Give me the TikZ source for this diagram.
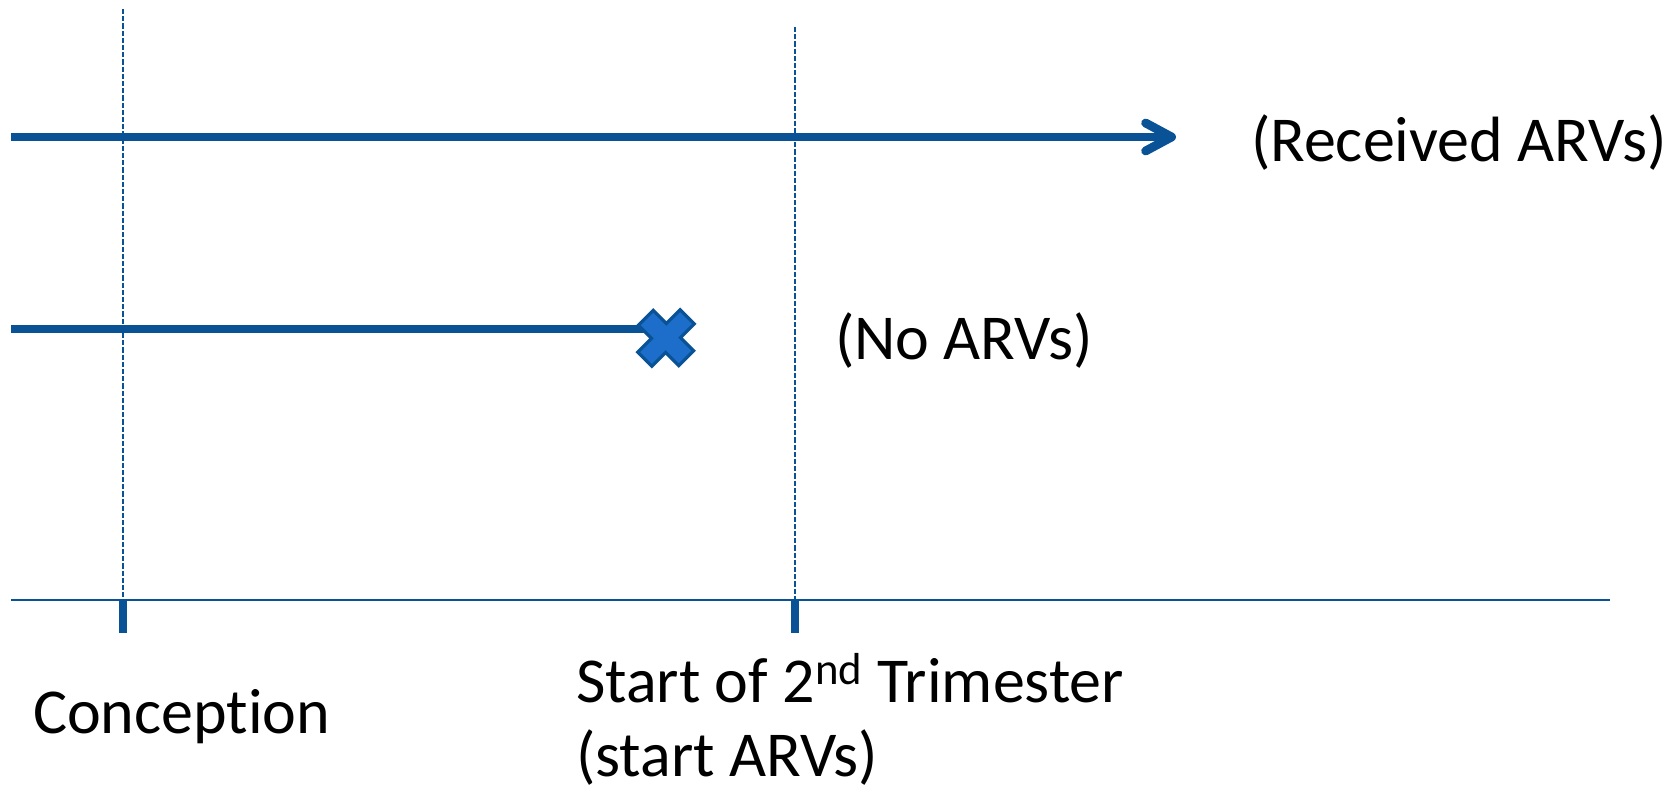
\documentclass[tikz,border=0pt]{standalone}
\usepackage{fontspec}
\setmainfont{Carlito}[Ligatures=NoCommon]
\usetikzlibrary{arrows.meta}
\definecolor{lineblue}{RGB}{10,82,150}
\definecolor{crossfill}{RGB}{28,110,202}
\tikzset{
  timeline/.style={draw=lineblue, line width=4.4pt},
  guide/.style={draw=lineblue, line width=0.7pt, dash pattern=on 2.6pt off 1pt},
  axisline/.style={draw=lineblue, line width=1pt},
  tickmark/.style={draw=lineblue, line width=4pt},
  label/.style={inner sep=0pt, outer sep=0pt, anchor=base west,
    font=\fontsize{32}{38}\selectfont},
}
\begin{document}
\begin{tikzpicture}[x=0.5pt, y=-0.5pt]
  \useasboundingbox[fill=white] (0,0) rectangle (1672,790);

  % reference points on the time axis
  \coordinate (axL) at (11,600);
  \coordinate (axR) at (1610,600);
  \coordinate (conc) at (123,600);
  \coordinate (concTop) at (123,9);
  \coordinate (concTick) at (123,633);
  \coordinate (tri) at (795,600);
  \coordinate (triTop) at (795,27);
  \coordinate (triTick) at (795,633);

  % vertical dashed guides
  \draw[guide] (concTop) -- (conc);
  \draw[guide] (triTop) -- (tri);

  % time axis and its ticks
  \draw[axisline] (axL) -- (axR);
  \draw[tickmark] (conc) -- (concTick);
  \draw[tickmark] (tri) -- (triTick);

  % treated group: continuing arrow
  \coordinate (aStart) at (11,137);
  \coordinate (aEnd) at (1176,137);
  \draw[timeline, -{Straight Barb[length=13pt, width=14pt, round]}] (aStart) -- (aEnd);

  % untreated group: line ending in a cross
  \coordinate (bStart) at (11,329);
  \coordinate (cross) at (666,338);
  \draw[timeline] (bStart) -- (cross |- bStart) ;
  \begin{scope}[shift={(cross)}, rotate=45, yscale=0.95]
    \def\ca{30}\def\ct{10.5}
    \filldraw[fill=crossfill, draw=lineblue, line width=1.6pt, line join=miter]
      (\ct,\ct) -- (\ca,\ct) -- (\ca,-\ct) -- (\ct,-\ct) -- (\ct,-\ca) -- (-\ct,-\ca)
      -- (-\ct,-\ct) -- (-\ca,-\ct) -- (-\ca,\ct) -- (-\ct,\ct) -- (-\ct,\ca) -- (\ct,\ca) -- cycle;
  \end{scope}

  % labels
  \node[label] (recv) at (1251,162) {(Received ARVs)};
  \node[label] (noarv) at (835,360) {(No ARVs)};
  \node[label] (conctext) at (33,734) {Conception};
  \node[label] (tritext) at (576,703) {Start of 2\textsuperscript{nd} Trimester};
  \node[label] (tritext2) at (576,777) {(start ARVs)};
\end{tikzpicture}
\end{document}
